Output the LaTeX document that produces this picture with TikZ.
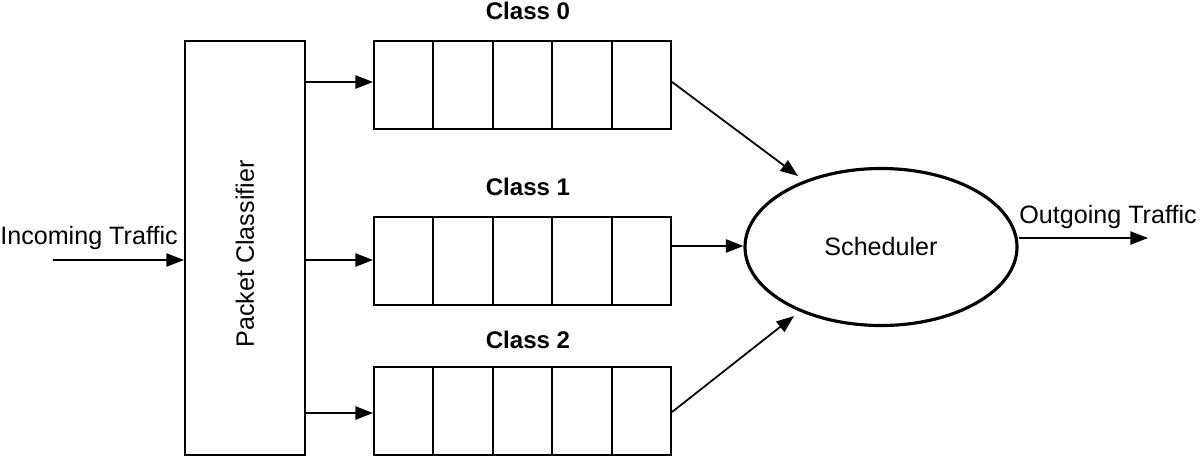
\documentclass[tikz,border=0pt]{standalone}
\usepackage{fontspec}
\setmainfont{Liberation Sans}
\usetikzlibrary{arrows.meta,shapes.geometric}
\begin{document}
\begin{tikzpicture}[x=0.02cm,y=-0.02cm,
  font=\fontsize{14.3}{17}\selectfont,
  box/.style={draw,line width=1.1pt,minimum width=59.5*0.02cm,minimum height=88*0.02cm,inner sep=0pt,anchor=north west},
  conn/.style={line width=1pt,-{Triangle[length=10pt,width=7.5pt]}},
  lbl/.style={font=\fontsize{13.7}{16}\selectfont\bfseries}]
\useasboundingbox (0,0) rectangle (1200,457);
% classifier
\node[draw,line width=1.1pt,minimum width=120*0.02cm,minimum height=414*0.02cm,anchor=north west,inner sep=0pt] (pc) at (184,40) {};
\node[rotate=90] (pct) at (245,254) {Packet Classifier};
% queues
\foreach \q/\y in {0/40,1/216,2/366}{
  \foreach \i in {0,...,4}{
    \node[box] (q\q c\i) at (373+59.4*\i,\y) {};
  }
}
\node[lbl] (l0) at (528,11) {Class 0};
\node[lbl] (l1) at (528,187) {Class 1};
\node[lbl] (l2) at (528,340) {Class 2};
% scheduler
\node[draw,ellipse,line width=1.8pt,minimum width=272*0.02cm,minimum height=157*0.02cm,inner sep=0pt] (sch) at (881,247) {Scheduler};
% incoming
\node (in) at (89,238) {Incoming Traffic};
\coordinate (inst) at (53,260);
\draw[conn,line width=0.75pt] (inst) -- (pc.west |- inst);
% outgoing
\node (out) at (1108,217) {Outgoing Traffic};
\coordinate (outend) at (1148,238);
\draw[conn,line width=0.75pt] (sch.east |- outend) -- (outend);
% classifier to queues
\draw[conn] (pc.east |- 0,82) -- (q0c0.west |- 0,82);
\draw[conn] (pc.east |- 0,260) -- (q1c0.west |- 0,260);
\draw[conn] (pc.east |- 0,413) -- (q2c0.west |- 0,413);
% queues to scheduler
\coordinate (s0) at (798,176);
\coordinate (s2) at (794,316);
\draw[conn] (q0c4.east |- 0,82) -- (s0);
\draw[conn] (q1c4.east |- 0,246) -- (sch.west |- 0,246);
\draw[conn] (q2c4.east |- 0,412) -- (s2);
\end{tikzpicture}
\end{document}
